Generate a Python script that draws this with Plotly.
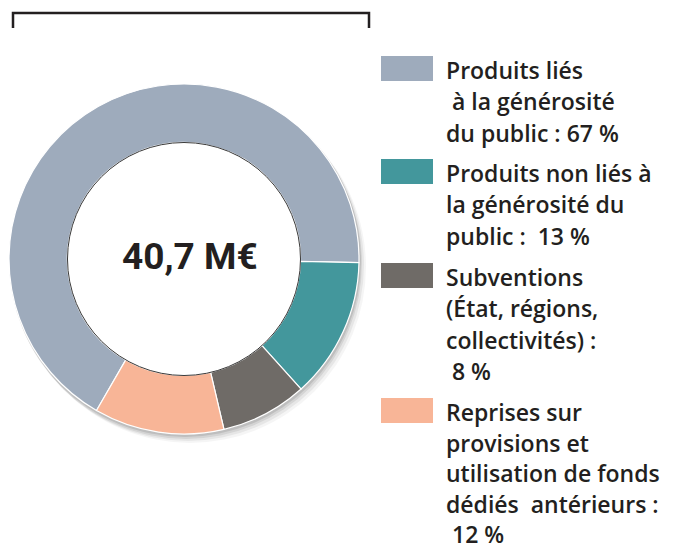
import plotly.graph_objects as go

# page body keeps an 8px margin, so the figure is drawn 8px in
OFF = 8
W, H = 676 - OFF, 550 - OFF

# -----------------------------------------
# data
# -----------------------------------------
labels = [
    "Produits liés à la générosité du public",
    "Produits non liés à la générosité du public",
    "Subventions (État, régions, collectivités)",
    "Reprises sur provisions et utilisation de fonds dédiés antérieurs",
]
shares = [67, 13, 8, 12]
colors = ["#9eabbc", "#43979c", "#6f6b67", "#f8b597"]
total_label = "40,7 M€"

legend_lines = [
    ["Produits liés", " à la générosité", "du public : 67 %"],
    ["Produits non liés à", "la générosité du", "public :  13 %"],
    ["Subventions", "(État, régions,", "collectivités) :", " 8 %"],
    ["Reprises sur", "provisions et", "utilisation de fonds", "dédiés  antérieurs :", " 12 %"],
]


def px_x(x):
    return (x - OFF) / W


def px_y(y):
    return 1 - (y - OFF) / H


# donut geometry (screen pixels)
cx, cy, r_out, r_in = 184, 259, 175, 116.5

fig = go.Figure()

fig.add_trace(
    go.Pie(
        labels=labels,
        values=shares,
        hole=r_in / r_out,
        sort=False,
        direction="clockwise",
        rotation=210,
        textinfo="none",
        hoverinfo="label+percent",
        marker=dict(colors=colors, line=dict(color="white", width=1.2)),
        domain=dict(
            x=[px_x(cx - r_out), px_x(cx + r_out)],
            y=[px_y(cy + r_out), px_y(cy - r_out)],
        ),
        showlegend=False,
    )
)

shapes = []

# soft shadow under the ring
for dx, dy, op in [(7, 9, 0.04), (5, 7, 0.06), (3, 5, 0.08), (2, 3, 0.10)]:
    shapes.append(dict(
        type="circle", xref="paper", yref="paper", layer="below",
        x0=px_x(cx - r_out + dx - 2), x1=px_x(cx + r_out + dx),
        y0=px_y(cy + r_out + dy), y1=px_y(cy - r_out + dy - 2),
        fillcolor=f"rgba(0,0,0,{op})", line=dict(width=0),
    ))

# white hole with a thin outline
shapes.append(dict(
    type="circle", xref="paper", yref="paper", layer="above",
    x0=px_x(cx - r_in), x1=px_x(cx + r_in),
    y0=px_y(cy + r_in), y1=px_y(cy - r_in),
    fillcolor="white", line=dict(color="#3a3a3a", width=1),
))

# bracket at the top
shapes.append(dict(
    type="path", xref="paper", yref="paper",
    path=(f"M {px_x(13)},{px_y(28)} L {px_x(13)},{px_y(13)} "
          f"L {px_x(369)},{px_y(13)} L {px_x(369)},{px_y(28)}"),
    line=dict(color="#231f20", width=2.5),
))

annotations = [dict(
    text=f"<b>{total_label}</b>", x=px_x(190), y=px_y(256),
    xref="paper", yref="paper", showarrow=False,
    xanchor="center", yanchor="middle",
    font=dict(family="Roboto", size=37, color="#231f20"),
)]

# legend drawn by hand: big swatches + multi-line labels
swatch_top = [56, 159, 263, 398]
line_step = [31.3, 31.3, 31.3, 30.6]
for k, lines in enumerate(legend_lines):
    top = swatch_top[k]
    shapes.append(dict(
        type="rect", xref="paper", yref="paper",
        x0=px_x(381), x1=px_x(433), y0=px_y(top + 25), y1=px_y(top),
        fillcolor=colors[k], line=dict(width=0),
    ))
    for j, line in enumerate(lines):
        annotations.append(dict(
            text=line.replace(" ", "&nbsp;") if line.startswith(" ") else line,
            x=px_x(444), y=px_y(top + 14 + j * line_step[k]),
            xref="paper", yref="paper", showarrow=False,
            xanchor="left", yanchor="middle",
            font=dict(family="Open Sans", size=23, color="#231f20", weight=600),
        ))

fig.update_layout(
    width=W,
    height=H,
    margin=dict(l=0, r=0, t=0, b=0),
    paper_bgcolor="white",
    plot_bgcolor="white",
    shapes=shapes,
    annotations=annotations,
)

fig.write_html("out.html")
